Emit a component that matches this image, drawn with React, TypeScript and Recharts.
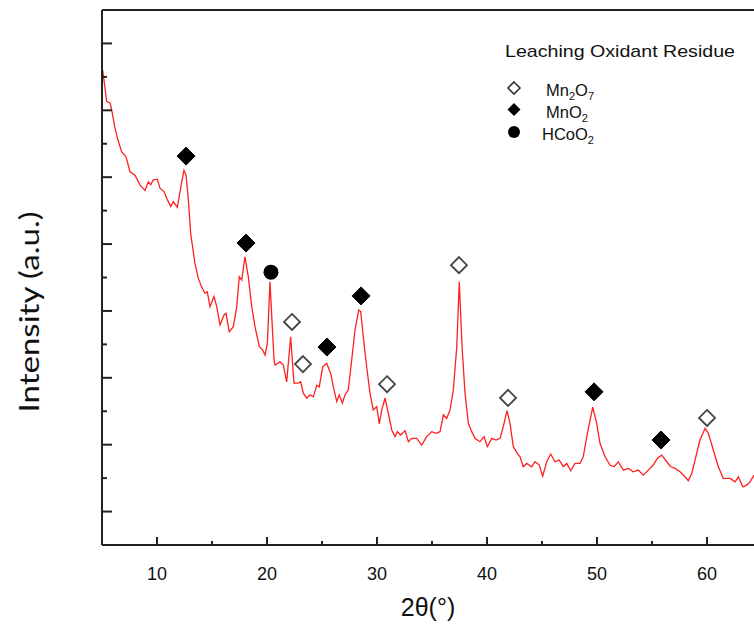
import React from 'react';
import { ComposedChart, Line, Scatter, XAxis, YAxis, ReferenceLine, Legend } from 'recharts';

// 2θ (degrees) of the measured XRD pattern
const twoTheta: number[] = [
  5.06, 5.43, 5.73, 5.88, 6.18, 6.45, 6.79, 7.18, 7.55, 8.0,
  8.45, 8.91, 9.21, 9.43, 9.66, 10.03, 10.27, 10.64, 10.88, 11.25,
  11.48, 11.85, 12.15, 12.45, 12.64, 12.85, 13.06, 13.45, 13.75, 14.06,
  14.36, 14.57, 14.82, 15.18, 15.43, 15.73, 16.09, 16.27, 16.57, 16.94,
  17.25, 17.48, 17.7, 18.0, 18.3, 18.61, 18.91, 19.3, 19.61, 19.82,
  20.03, 20.27, 20.45, 20.64, 20.73, 21.18, 21.48, 21.79, 22.15, 22.45,
  22.85, 23.06, 23.3, 23.61, 23.91, 24.21, 24.52, 24.75, 25.06, 25.43,
  25.79, 26.03, 26.34, 26.57, 26.85, 27.09, 27.39, 27.7, 28.0, 28.34,
  28.52, 28.75, 29.06, 29.36, 29.66, 29.97, 30.21, 30.43, 30.73, 31.03,
  31.34, 31.64, 31.85, 32.15, 32.55, 32.85, 33.15, 33.61, 34.06, 34.52,
  34.97, 35.43, 35.73, 36.03, 36.34, 36.64, 36.94, 37.25, 37.48, 37.73,
  38.0, 38.3, 38.61, 38.91, 39.36, 39.73, 40.03, 40.43, 40.82, 41.18,
  41.48, 41.82, 42.09, 42.39, 42.75, 43.0, 43.3, 43.61, 44.06, 44.36,
  44.75, 45.06, 45.43, 45.79, 46.18, 46.57, 46.94, 47.25, 47.61, 48.0,
  48.45, 48.75, 49.12, 49.61, 49.97, 50.27, 50.73, 51.18, 51.55, 51.94,
  52.39, 52.85, 53.3, 53.75, 54.21, 54.66, 55.12, 55.48, 55.88, 56.34,
  56.7, 57.09, 57.55, 58.0, 58.3, 58.61, 58.91, 59.36, 59.82, 60.12,
  60.57, 61.03, 61.48, 62.09, 62.55, 62.85, 63.25, 63.61, 63.91, 64.27,
];

// Intensity (a.u.) matching twoTheta
const intensity: number[] = [
  14.2, 13.26, 13.22, 13.01, 12.47, 12.11, 11.76, 11.61, 11.16, 11.06,
  10.77, 10.6, 10.86, 10.77, 10.92, 10.94, 10.67, 10.57, 10.37, 10.12,
  10.27, 10.1, 10.67, 11.21, 11.06, 10.32, 9.32, 8.42, 7.98, 7.72,
  7.53, 7.57, 7.13, 7.43, 7.13, 6.58, 6.88, 6.93, 6.38, 6.53,
  7.13, 8.02, 7.92, 8.62, 8.02, 7.13, 6.53, 5.93, 5.83, 5.68,
  6.03, 7.87, 6.73, 5.53, 5.38, 5.48, 5.38, 4.88, 6.23, 4.84,
  4.84, 4.88, 4.54, 4.39, 4.49, 4.43, 4.78, 4.73, 5.33, 5.43,
  5.13, 4.73, 4.29, 4.49, 4.24, 4.49, 4.64, 5.53, 6.43, 7.03,
  6.98, 6.23, 5.33, 4.54, 4.04, 4.14, 3.62, 4.04, 4.39, 3.94,
  3.44, 3.24, 3.39, 3.29, 3.42, 3.09, 3.19, 3.19, 2.99, 3.24,
  3.39, 3.34, 3.39, 3.89, 3.79, 4.04, 4.64, 5.93, 7.87, 5.93,
  4.54, 3.64, 3.39, 3.19, 3.09, 3.24, 2.94, 3.19, 3.14, 3.19,
  3.54, 4.02, 3.64, 2.94, 2.74, 2.64, 2.34, 2.44, 2.34, 2.49,
  2.39, 2.06, 2.49, 2.72, 2.49, 2.54, 2.34, 2.44, 2.22, 2.44,
  2.44, 2.64, 3.34, 4.12, 3.64, 3.04, 2.64, 2.39, 2.34, 2.49,
  2.24, 2.29, 2.19, 2.24, 2.09, 2.24, 2.39, 2.59, 2.69, 2.49,
  2.34, 2.29, 2.19, 2.04, 1.92, 2.14, 2.54, 3.14, 3.49, 3.34,
  2.84, 2.34, 1.99, 1.99, 1.89, 2.04, 1.74, 1.79, 1.89, 2.09,
];

// Phase markers
const mn2o7X: number[] = [22.27, 23.27, 30.91, 37.45, 41.91, 60.0];
const mn2o7Y: number[] = [6.67, 5.41, 4.81, 8.37, 4.4, 3.8];
const mno2X: number[] = [12.64, 18.09, 25.45, 28.55, 49.73, 55.82];
const mno2Y: number[] = [11.63, 9.03, 5.92, 7.45, 4.58, 3.14];
const hcoo2X: number[] = [20.36];
const hcoo2Y: number[] = [8.16];

// Axis ticks
const xTicks: number[] = [10, 15, 20, 25, 30, 35, 40, 45, 50, 55, 60];
const xMajor: number[] = [10, 20, 30, 40, 50, 60];
const yTicks: number[] = [1, 2, 3, 4, 5, 6, 7, 8, 9, 10, 11, 12, 13, 14, 15];
const yMajor: number[] = [1, 3, 5, 7, 9, 11, 13, 15];

const pattern = twoTheta.map((x, i) => ({ x, y: intensity[i] }));
const mn2o7 = mn2o7X.map((x, i) => ({ x, y: mn2o7Y[i] }));
const mno2 = mno2X.map((x, i) => ({ x, y: mno2Y[i] }));
const hcoo2 = hcoo2X.map((x, i) => ({ x, y: hcoo2Y[i] }));

const AXIS = '#222';
const SANS = "'Liberation Sans', Arial, sans-serif";

const diamondPath = (cx: number, cy: number, r: number) =>
  `M${cx},${cy - r} L${cx + r},${cy} L${cx},${cy + r} L${cx - r},${cy} Z`;

const OpenDiamond = (p: any) => (
  <path d={diamondPath(p.cx, p.cy, 8)} fill="#fff" stroke="#444" strokeWidth={1.8} />
);
const FilledDiamond = (p: any) => (
  <path d={diamondPath(p.cx, p.cy, 9)} fill="#000" stroke="#000" strokeWidth={1} />
);
const FilledCircle = (p: any) => <circle cx={p.cx} cy={p.cy} r={7.5} fill="#000" />;

const XTick = (props: any) => {
  const { x, y, payload } = props;
  const major = xMajor.includes(payload.value);
  return (
    <g>
      <line x1={x} x2={x} y1={y} y2={y - (major ? 8 : 4)} stroke={AXIS} strokeWidth={2} />
      {major && (
        <text x={x} y={y + 35} textAnchor="middle" fontSize={18} fontFamily={SANS} fill="#111">
          {payload.value}
        </text>
      )}
    </g>
  );
};

const YTick = (props: any) => {
  const { x, y, payload } = props;
  const major = yMajor.includes(payload.value);
  return <line x1={x} x2={x + (major ? 10 : 5)} y1={y} y2={y} stroke={AXIS} strokeWidth={2} />;
};

const XTitle = () => (
  <text x={428} y={616} textAnchor="middle" fontSize={25} fontFamily={SANS} fill="#111">
    2θ(°)
  </text>
);

const YTitle = () => (
  <text
    x={28}
    y={312}
    transform="rotate(-90 28 312)"
    textAnchor="middle"
    dominantBaseline="central"
    fontSize={27}
    fontFamily="Lato, 'Open Sans', sans-serif"
    fill="#111"
    textLength={201}
    lengthAdjust="spacingAndGlyphs"
  >
    Intensity (a.u.)
  </text>
);

const LegendBox = () => (
  <svg width={754} height={160} style={{ display: 'block', overflow: 'visible' }}>
    <text x={505} y={57} fontSize={17} fontFamily={SANS} fill="#111" textLength={230} lengthAdjust="spacingAndGlyphs">
      Leaching Oxidant Residue
    </text>
    <path d={diamondPath(514, 88, 6)} fill="#fff" stroke="#333" strokeWidth={1.6} />
    <text x={546} y={96} fontSize={16.5} fontFamily={SANS} fill="#111">
      Mn<tspan dy={4} fontSize={11}>2</tspan>
      <tspan dy={-4}>O</tspan>
      <tspan dy={4} fontSize={11}>7</tspan>
    </text>
    <path d={diamondPath(514, 109.5, 6.5)} fill="#000" />
    <text x={546} y={118} fontSize={16.5} fontFamily={SANS} fill="#111">
      MnO<tspan dy={4} fontSize={11}>2</tspan>
    </text>
    <circle cx={514} cy={132} r={6} fill="#000" />
    <text x={542} y={140} fontSize={16.5} fontFamily={SANS} fill="#111">
      HCoO<tspan dy={4} fontSize={11}>2</tspan>
    </text>
  </svg>
);

export default function App() {
  return (
    <div style={{ position: 'absolute', left: 0, top: 0, width: 754, height: 626, overflow: 'hidden', background: '#fff' }}>
      <ComposedChart width={754} height={626} data={pattern} margin={{ top: 10, right: 0, left: 0, bottom: 0 }}>
        <XAxis
          type="number"
          dataKey="x"
          domain={[5, 64.27]}
          allowDataOverflow
          ticks={xTicks}
          interval={0}
          height={81}
          tickSize={0}
          tickMargin={0}
          tickLine={false}
          tick={<XTick />}
          axisLine={{ stroke: AXIS, strokeWidth: 2 }}
          label={<XTitle />}
        />
        <YAxis
          type="number"
          dataKey="y"
          domain={[0, 16]}
          allowDataOverflow
          ticks={yTicks}
          interval={0}
          width={102}
          tickSize={0}
          tickMargin={0}
          tickLine={false}
          tick={<YTick />}
          axisLine={{ stroke: AXIS, strokeWidth: 2 }}
          label={<YTitle />}
        />
        <ReferenceLine y={16} stroke={AXIS} strokeWidth={2} />
        <Line
          data={pattern}
          dataKey="y"
          type="linear"
          stroke="#ff2020"
          strokeWidth={1.3}
          dot={false}
          activeDot={false}
          isAnimationActive={false}
        />
        <Scatter data={mn2o7} dataKey="y" shape={OpenDiamond} isAnimationActive={false} />
        <Scatter data={mno2} dataKey="y" shape={FilledDiamond} isAnimationActive={false} />
        <Scatter data={hcoo2} dataKey="y" shape={FilledCircle} isAnimationActive={false} />
        <Legend
          layout="horizontal"
          verticalAlign="middle"
          align="center"
          wrapperStyle={{ position: 'absolute', left: 0, top: 0, width: 754, height: 160, pointerEvents: 'none' }}
          content={<LegendBox />}
        />
      </ComposedChart>
    </div>
  );
}
